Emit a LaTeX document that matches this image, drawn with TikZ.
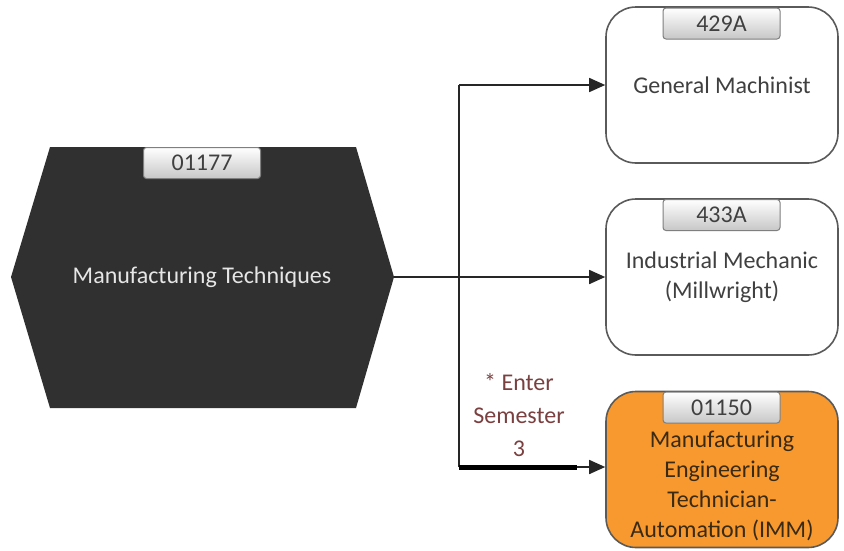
\documentclass[tikz,border=0pt]{standalone}
\usepackage{fontspec}
\setmainfont{Carlito}
\usetikzlibrary{arrows.meta}
\definecolor{hexfill}{HTML}{303030}
\definecolor{hextext}{HTML}{E6E6E6}
\definecolor{boxline}{HTML}{5A5A5A}
\definecolor{boxtext}{HTML}{404040}
\definecolor{orangefill}{HTML}{F7992F}
\definecolor{orangetext}{HTML}{3A2A14}
\definecolor{labeltext}{HTML}{7A4040}
\definecolor{tagline}{HTML}{7F7F7F}
\begin{document}
\begin{tikzpicture}[x=1pt,y=-1pt,
  every node/.style={font=\fontsize{24}{30}\selectfont},
  box/.style={draw=boxline, line width=1.6pt, fill=white, rounded corners=30pt,
    minimum width=232pt, minimum height=156pt, inner sep=0pt},
  tagbox/.style={draw=tagline, line width=1pt, rounded corners=3pt,
    top color=white, bottom color=black!22, text=boxtext,
    minimum width=117pt, minimum height=31pt, inner sep=0pt},
  conn/.style={draw=black!85, line width=1.6pt, -{Triangle[length=16pt,width=14pt]}},
  plainline/.style={draw=black!85, line width=1.6pt},
  thickline/.style={draw=black, line width=5pt}
]
\useasboundingbox (0,0) rectangle (844,550);

% hexagon
\coordinate (hL) at (11,277);
\coordinate (hTL) at (50,147);
\coordinate (hTR) at (356,147);
\coordinate (hR) at (394,277);
\coordinate (hBR) at (356,408);
\coordinate (hBL) at (50,408);
\fill[hexfill] (hL) -- (hTL) -- (hTR) -- (hR) -- (hBR) -- (hBL) -- cycle;
\node[text=hextext] (hex) at (202,277) {Manufacturing Techniques};
\node[tagbox] (t0) at (202,163) {01177};

% boxes
\node[box] (b1) at (722,85) {};
\node[tagbox] (t1) at (721.5,23.5) {429A};
\node[text=boxtext] (l1) at (722,85) {General Machinist};

\node[box] (b2) at (722,277) {};
\node[tagbox] (t2) at (721.5,215) {433A};
\node[text=boxtext, align=center] (l2) at (722,277) {Industrial Mechanic\\(Millwright)};

\node[box, fill=orangefill] (b3) at (722,469.5) {};
\node[tagbox] (t3) at (721.5,407.5) {01150};
\node[text=orangetext, align=center] (l3) at (722,486) {Manufacturing\\Engineering\\Technician-\\Automation (IMM)};

% connectors
\coordinate (jt) at (459,85);
\coordinate (jb) at (459,467);
\coordinate (jk) at (577,467);
\draw[conn] (hR) -- (b2.west);
\draw[plainline] (jb) -- (jt);
\draw[conn] (jt) -- (b1.west);
\draw[conn] (jb) -- (jb -| b3.west);
\draw[thickline] (jb) -- (jk);

\node[text=labeltext, align=center, font=\fontsize{24}{33}\selectfont] (lab) at (519,415) {* Enter\\Semester\\3};
\end{tikzpicture}
\end{document}
